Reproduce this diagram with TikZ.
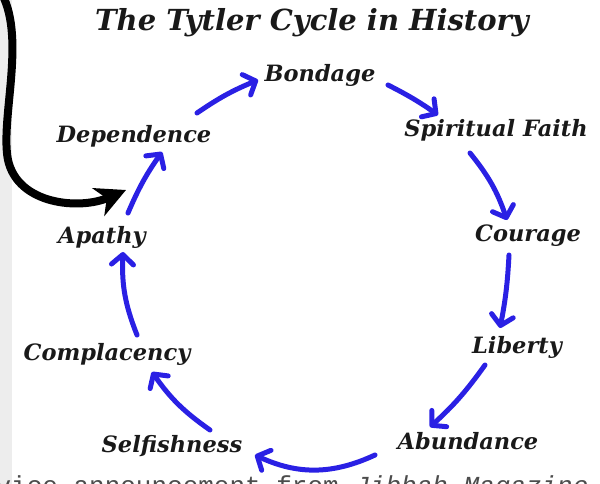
\documentclass[tikz,border=0pt]{standalone}
\usepackage{fontspec}
\setmainfont{DejaVu Serif}
\newfontfamily\notefont{Liberation Mono}
\usetikzlibrary{arrows.meta}
\definecolor{cycleblue}{RGB}{42,32,228}

\begin{document}
\begin{tikzpicture}[x=1pt, y=-1pt,
        stage/.style={font=\fontsize{22.5}{25}\selectfont\bfseries\itshape, text=black!90, inner sep=1pt},
        flow/.style={cycleblue, line width=5pt, line cap=round, -{Straight Barb[length=10pt, width=22pt, round]}}]
        \useasboundingbox (0,0) rectangle (600,484);
        \clip (0,0) rectangle (600,484);
        \fill[black!7] (0,0) rectangle (12,484);

        \node[font=\fontsize{29}{32}\selectfont\bfseries\itshape, text=black!90] (title) at (312,23) {The Tytler Cycle in History};

        % the stages, clockwise from the top
        \node[stage] (bondage) at (320,75) {Bondage};
        \node[stage] (faith) at (496,130) {Spiritual Faith};
        \node[stage] (courage) at (528,236) {Courage};
        \node[stage] (liberty) at (517,347) {Liberty};
        \node[stage] (abundance) at (468,441) {Abundance};
        \node[stage] (selfishness) at (172,446) {Selfishness};
        \node[stage] (complacency) at (107,354) {Complacency};
        \node[stage] (apathy) at (102,237) {Apathy};
        \node[stage] (dependence) at (134,136) {Dependence};

        % cycle arrows
        \draw[flow] ([shift={(63,-23)}]dependence.center) to[bend left=6] ([shift={(-62,5)}]bondage.center);
        \draw[flow] ([shift={(68,10)}]bondage.center) to[bend left=4] ([shift={(-58,-15)}]faith.center);
        \draw[flow] ([shift={(-26,23)}]faith.center) to[bend left=10] ([shift={(-21,-16)}]courage.center);
        \draw[flow] ([shift={(-19,19)}]courage.center) to[bend left=4] ([shift={(-17,-19)}]liberty.center);
        \draw[flow] ([shift={(-32,18)}]liberty.center) to[bend left=6] ([shift={(-38,-14)}]abundance.center);
        \draw[flow] ([shift={(-93,14)}]abundance.center) to[bend left=25] ([shift={(83,9)}]selfishness.center);
        \draw[flow] ([shift={(38,-16)}]selfishness.center) to[bend left=10] ([shift={(45,18)}]complacency.center);
        \draw[flow] ([shift={(30,-19)}]complacency.center) to[bend left=12] ([shift={(21,15)}]apathy.center);
        \draw[flow] ([shift={(26,-24)}]apathy.center) to[bend left=6] ([shift={(28,16)}]dependence.center);

        % the pointer coming in from the left
        \coordinate (lead) at (2,-6);
        \coordinate (hook) at (126,190);
        \draw[line width=8pt, -{Stealth[length=30pt, width=30pt, inset=9pt]}] (lead) .. controls (26,40) and (0,120) .. (8,160) .. controls (18,205) and (80,210) .. (hook);

        \node[font=\notefont\fontsize{26}{28}\selectfont, text=black!70, anchor=base east] (note) at (592,494) {service announcement from \textit{Jibbah Magazine}};
\end{tikzpicture}
\end{document}
